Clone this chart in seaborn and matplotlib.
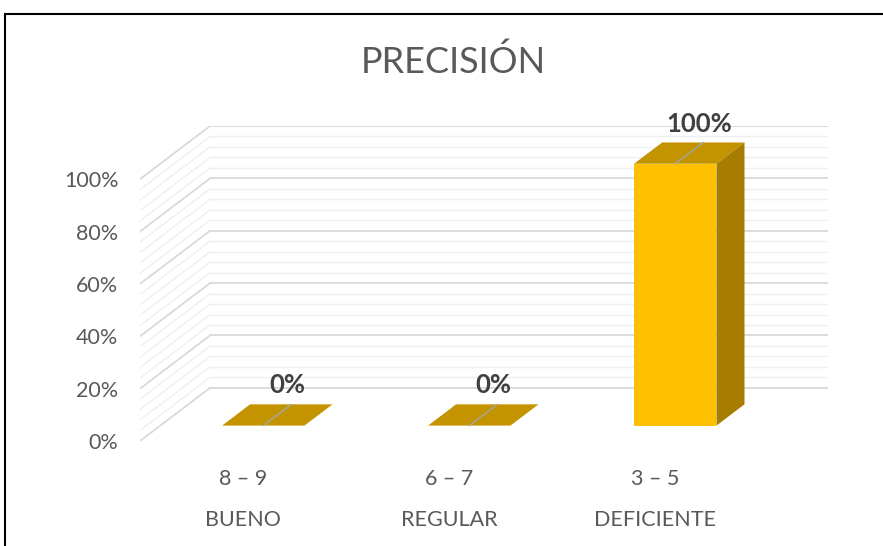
import pandas as pd
import matplotlib.pyplot as plt
import matplotlib.patches as mpatches
from matplotlib.transforms import blended_transform_factory
import seaborn as sns

# datos
rangos = ["8 – 9", "6 – 7", "3 – 5"]
niveles = ["BUENO", "REGULAR", "DEFICIENTE"]
porcentajes = [0, 0, 100]
etiquetas = ["0%", "0%", "100%"]

df = pd.DataFrame({"rango": rangos, "nivel": niveles, "pct": porcentajes})

# profundidad del efecto 3D (en unidades de datos)
DX = 0.34    # categorias
DY = 20.3    # porcentaje
Z0, Z1 = 0.29, 0.69
ANCHO = 0.4

C_FRENTE = "#FFC000"
C_TAPA = "#C39300"
C_LADO = "#A67D00"
GRIS = "#595959"

sns.set_theme(style="white")
plt.rcParams["font.family"] = ["Lato", "DejaVu Sans"]

fig = plt.figure(figsize=(8.83, 5.46), dpi=100)
ax = fig.add_axes([140 / 883, 1 - 441 / 546, (828 - 140) / 883, (441 - 126) / 546])

sns.barplot(data=df, x="rango", y="pct", color=C_FRENTE, saturation=1,
            width=ANCHO, linewidth=0, ax=ax, zorder=3)

# paredes: lateral izquierda y fondo
for v in range(0, 101, 4):
    mayor = v % 20 == 0
    c = "#D9D9D9" if mayor else "#EFEFEF"
    lw = 1.3 if mayor else 1.0
    ax.plot([-0.5, -0.5 + DX], [v, v + DY], color=c, lw=lw, zorder=1)
    ax.plot([-0.5 + DX, 2.5 + DX], [v + DY, v + DY], color=c, lw=lw, zorder=1)

# caras 3D a partir de las barras de seaborn
for p, txt in zip(ax.patches, etiquetas):
    x0 = p.get_x()
    x1 = x0 + p.get_width()
    h = p.get_height()
    p.set_x(x0 + Z0 * DX)
    p.set_y(Z0 * DY)
    tapa = [(x0 + Z0 * DX, h + Z0 * DY), (x1 + Z0 * DX, h + Z0 * DY),
            (x1 + Z1 * DX, h + Z1 * DY), (x0 + Z1 * DX, h + Z1 * DY)]
    ax.add_patch(mpatches.Polygon(tapa, closed=True, fc=C_TAPA, ec="none", zorder=4))
    if h > 0:
        lado = [(x1 + Z0 * DX, Z0 * DY), (x1 + Z1 * DX, Z1 * DY),
                (x1 + Z1 * DX, h + Z1 * DY), (x1 + Z0 * DX, h + Z0 * DY)]
        ax.add_patch(mpatches.Polygon(lado, closed=True, fc=C_LADO, ec="none", zorder=4))
    xc = (x0 + x1) / 2
    ax.plot([xc + Z0 * DX, xc + Z1 * DX], [h + Z0 * DY, h + Z1 * DY],
            color="#A6A6A6", lw=1, zorder=5, clip_on=False)
    ax.annotate(txt, (xc + Z1 * DX, h + Z1 * DY), xytext=(-3, 5),
                textcoords="offset points", ha="center", va="bottom",
                fontsize=18.5, fontweight="bold", color="#404040",
                annotation_clip=False, zorder=6)

ax.set_xlim(-0.5, 2.5 + DX)
ax.set_ylim(0, 100 + DY)
ax.set_yticks(range(0, 101, 20))
ax.set_yticklabels([f"{v}%" for v in range(0, 101, 20)])
ax.set_xlabel("")
ax.set_ylabel("")
ax.tick_params(axis="y", length=0, pad=15.5, labelsize=15.5, labelcolor=GRIS)
ax.tick_params(axis="x", length=0, pad=20, labelsize=15.5, labelcolor=GRIS)
for s in ax.spines.values():
    s.set_visible(False)
ax.grid(False)

trans = blended_transform_factory(ax.transData, ax.transAxes)
for i, n in enumerate(niveles):
    ax.text(i, -0.251, n, transform=trans, ha="center", va="center",
            fontsize=15.5, color=GRIS)

fig.text(453 / 883, 1 - 62 / 546, "PRECISIÓN", ha="center", va="center",
         fontsize=26, color=GRIS)

# marco del grafico
fig.add_artist(mpatches.Rectangle((5 / 883, -0.05), 2, 1 - 14 / 546 + 0.05,
                                  transform=fig.transFigure, fill=False,
                                  ec="black", lw=1.5))

fig.savefig("out.png", dpi=100)
plt.close()
